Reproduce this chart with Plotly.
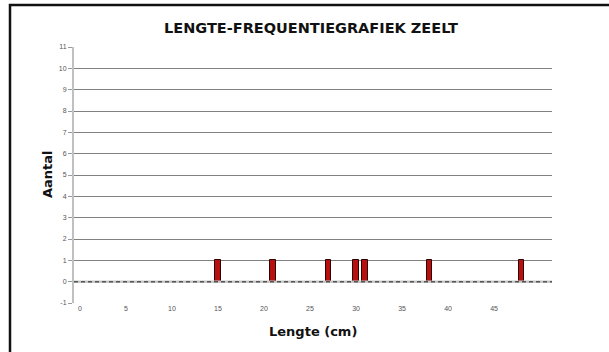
import plotly.graph_objects as go

# Fish lengths (cm) and how many of each were counted
lengths = [15, 21, 27, 30, 31, 38, 48]
counts = [1, 1, 1, 1, 1, 1, 1]

x_ticks = [0, 5, 10, 15, 20, 25, 30, 35, 40, 45]
y_ticks = [-1, 0, 1, 2, 3, 4, 5, 6, 7, 8, 9, 10, 11]

W, H = 609, 352
L, R, T, B = 74, 552, 47, 303


def px_x(px):
    return (px - L) / (R - L)


def px_y(py):
    return (B - py) / (B - T)


fig = go.Figure()
fig.add_trace(go.Bar(
    x=lengths, y=counts, width=0.6,
    marker=dict(color="#b80f0f", line=dict(color="#2a0000", width=1)),
))

tick_font = "Liberation Sans, Arial, sans-serif"
title_font = "DejaVu Sans, sans-serif"
fig.update_layout(
    width=W, height=H,
    margin=dict(l=L, r=W - R, t=T, b=H - B),
    paper_bgcolor="white", plot_bgcolor="white",
    showlegend=False, bargap=0,
    font=dict(family=tick_font),
    xaxis=dict(range=[-0.65, 51.3], tickvals=x_ticks, ticktext=[str(v) for v in x_ticks],
               showgrid=False, zeroline=False, showline=False,
               tickfont=dict(size=7, color="#555555"), ticks="", ticklen=0),
    yaxis=dict(range=[-1, 11], tickvals=y_ticks, ticktext=[str(v) for v in y_ticks],
               showgrid=True, gridcolor="#808080", gridwidth=1.3,
               zeroline=False, showline=True, linecolor="#c0c0c0", linewidth=2,
               tickfont=dict(size=7, color="#555555"), ticks="outside", ticklen=4,
               tickcolor="#9a9a9a"),
    shapes=[
        # light baseline at zero with a dashed overlay
        dict(type="line", xref="paper", yref="y", x0=0, x1=1, y0=0, y1=0,
             line=dict(color="#c8c8c8", width=2.5), layer="above"),
        dict(type="line", xref="paper", yref="y", x0=0, x1=1, y0=0, y1=0,
             line=dict(color="#555555", width=1.5, dash="4px,3px"), layer="above"),
        # outer frame
        dict(type="rect", xref="paper", yref="paper",
             x0=px_x(10), x1=px_x(W + 20), y0=px_y(H + 20), y1=px_y(5),
             line=dict(color="#111111", width=2.5)),
    ],
    annotations=[
        dict(text="<b>LENGTE-FREQUENTIEGRAFIEK ZEELT</b>", xref="paper", yref="paper",
             x=px_x(311), y=px_y(28), xanchor="center", yanchor="middle", showarrow=False,
             font=dict(family=title_font, size=14.5, color="#111111")),
        dict(text="<b>Aantal</b>", xref="paper", yref="paper", textangle=-90,
             x=px_x(47), y=px_y(174), xanchor="center", yanchor="middle", showarrow=False,
             font=dict(family=title_font, size=13, color="#111111")),
        dict(text="<b>Lengte (cm)</b>", xref="paper", yref="paper",
             x=px_x(313), y=px_y(331), xanchor="center", yanchor="middle", showarrow=False,
             font=dict(family=title_font, size=13, color="#111111")),
    ],
)

fig.write_html("out.html")
